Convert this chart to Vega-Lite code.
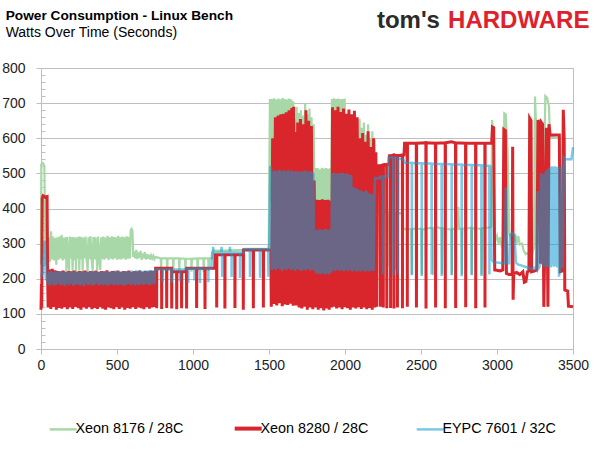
{
"$schema":"https://vega.github.io/schema/vega-lite/v6.json",
"width":532,"height":281,
"autosize":{"type":"none"},
"padding":{"left":41,"top":68,"right":25,"bottom":125},
"background":"white",
"title":{"text":"Power Consumption - Linux Bench","subtitle":"Watts Over Time (Seconds)","anchor":"start","frame":"bounds","dx":4,"offset":-31,"font":"Liberation Sans","fontSize":13.7,"fontWeight":"bold","color":"#000000","subtitleFont":"Liberation Sans","subtitleFontSize":14,"subtitleColor":"#000000","subtitlePadding":3},
"config":{"view":{"stroke":"#bfbfbf","strokeWidth":1},"font":"Liberation Sans"},
"resolve":{"axis":{"y":"independent"}},
"layer":[
{"data":{"values":[
{"t":0,"w":240},{"t":2,"w":525},{"t":8,"w":530},{"t":15,"w":528},{"t":22,"w":520},{"t":26,"w":380},{"t":30,"w":240},{"t":36,"w":255},{"t":40,"w":318},
{"t":45,"w":256},{"t":52,"w":318},{"t":59,"w":248},{"t":66,"w":335},{"t":73,"w":255},{"t":80,"w":320},{"t":87,"w":252},{"t":94,"w":316},{"t":101,"w":240},{"t":108,"w":318},{"t":115,"w":254},{"t":122,"w":320},{"t":129,"w":258},{"t":136,"w":325},{"t":143,"w":252},{"t":150,"w":317},{"t":157,"w":256},{"t":164,"w":318},{"t":167,"w":222},{"t":171,"w":319},{"t":178,"w":255},{"t":185,"w":222},{"t":189,"w":320},{"t":196,"w":258},{"t":203,"w":318},{"t":208,"w":221},{"t":213,"w":319},{"t":220,"w":253},{"t":227,"w":317},{"t":230,"w":222},{"t":235,"w":318},{"t":242,"w":257},{"t":249,"w":320},{"t":252,"w":223},{"t":257,"w":320},{"t":264,"w":255},{"t":271,"w":318},{"t":274,"w":222},{"t":279,"w":317},{"t":286,"w":258},{"t":293,"w":320},{"t":300,"w":254},{"t":307,"w":222},{"t":312,"w":318},{"t":319,"w":256},{"t":326,"w":321},{"t":333,"w":255},{"t":340,"w":222},{"t":345,"w":319},{"t":352,"w":255},{"t":359,"w":318},{"t":366,"w":257},{"t":370,"w":224},{"t":376,"w":320},{"t":383,"w":257},{"t":390,"w":225},{"t":396,"w":318},{"t":403,"w":256},{"t":410,"w":320},{"t":417,"w":254},{"t":424,"w":317},{"t":431,"w":258},{"t":438,"w":322},{"t":445,"w":253},{"t":452,"w":318},{"t":459,"w":257},{"t":466,"w":321},{"t":473,"w":255},{"t":480,"w":319},{"t":487,"w":258},{"t":494,"w":318},{"t":501,"w":254},{"t":508,"w":322},{"t":515,"w":256},{"t":522,"w":318},{"t":529,"w":255},{"t":536,"w":320},{"t":543,"w":258},{"t":550,"w":318},{"t":557,"w":254},{"t":564,"w":321},{"t":571,"w":257},{"t":578,"w":319},{"t":585,"w":258},{"t":590,"w":338},{"t":596,"w":342},{"t":602,"w":335},{"t":606,"w":262},
{"t":613,"w":278},{"t":620,"w":258},{"t":627,"w":282},{"t":634,"w":256},{"t":641,"w":275},{"t":648,"w":260},{"t":655,"w":279},{"t":662,"w":254},{"t":669,"w":272},{"t":676,"w":258},{"t":683,"w":276},{"t":690,"w":255},{"t":697,"w":270},{"t":704,"w":257},{"t":711,"w":268},{"t":718,"w":255},{"t":725,"w":266},{"t":732,"w":258},{"t":739,"w":265},{"t":746,"w":256},{"t":753,"w":262},
{"t":770,"w":260},{"t":788,"w":258},{"t":790,"w":222},{"t":793,"w":258},{"t":828,"w":258},{"t":830,"w":220},{"t":833,"w":258},{"t":868,"w":258},{"t":870,"w":222},{"t":873,"w":258},{"t":908,"w":258},{"t":910,"w":220},{"t":913,"w":258},{"t":948,"w":257},{"t":950,"w":222},{"t":953,"w":257},{"t":988,"w":257},{"t":990,"w":220},{"t":993,"w":257},{"t":1028,"w":258},{"t":1030,"w":222},{"t":1033,"w":258},{"t":1068,"w":258},{"t":1070,"w":220},{"t":1073,"w":258},{"t":1100,"w":258},{"t":1103,"w":222},{"t":1106,"w":258},{"t":1125,"w":258},{"t":1132,"w":280},{"t":1200,"w":280},{"t":1330,"w":282},{"t":1340,"w":285},{"t":1498,"w":286},
{"t":1502,"w":500},{"t":1506,"w":712},{"t":1513,"w":420},{"t":1520,"w":712},{"t":1527,"w":410},{"t":1534,"w":714},{"t":1541,"w":405},{"t":1548,"w":710},{"t":1555,"w":415},{"t":1562,"w":713},{"t":1569,"w":400},{"t":1576,"w":711},{"t":1583,"w":410},{"t":1590,"w":715},{"t":1597,"w":405},{"t":1604,"w":712},{"t":1611,"w":412},{"t":1618,"w":710},{"t":1625,"w":400},{"t":1632,"w":713},{"t":1639,"w":420},{"t":1646,"w":711},{"t":1653,"w":410},{"t":1660,"w":705},{"t":1664,"w":420},{"t":1668,"w":655},{"t":1675,"w":410},{"t":1682,"w":690},{"t":1689,"w":405},{"t":1696,"w":672},{"t":1703,"w":410},{"t":1710,"w":680},{"t":1717,"w":400},{"t":1724,"w":665},{"t":1731,"w":415},{"t":1738,"w":700},{"t":1745,"w":405},{"t":1752,"w":668},{"t":1759,"w":410},{"t":1766,"w":685},{"t":1773,"w":400},{"t":1780,"w":660},{"t":1787,"w":405},{"t":1794,"w":640},{"t":1800,"w":400},{"t":1806,"w":515},{"t":1813,"w":400},{"t":1820,"w":515},{"t":1827,"w":405},{"t":1834,"w":512},{"t":1841,"w":400},{"t":1848,"w":516},{"t":1855,"w":402},{"t":1862,"w":514},{"t":1869,"w":400},{"t":1876,"w":515},{"t":1883,"w":405},{"t":1890,"w":513},{"t":1897,"w":400},{"t":1904,"w":515},{"t":1909,"w":410},{"t":1914,"w":712},{"t":1921,"w":405},{"t":1928,"w":714},{"t":1935,"w":410},{"t":1942,"w":712},{"t":1949,"w":400},{"t":1956,"w":713},{"t":1963,"w":405},{"t":1970,"w":711},{"t":1977,"w":410},{"t":1984,"w":712},{"t":1991,"w":400},{"t":1998,"w":713},{"t":2005,"w":405},{"t":2012,"w":660},{"t":2019,"w":410},{"t":2026,"w":640},{"t":2033,"w":400},{"t":2040,"w":655},{"t":2047,"w":405},{"t":2054,"w":625},{"t":2061,"w":410},{"t":2068,"w":650},{"t":2075,"w":400},{"t":2082,"w":615},{"t":2089,"w":405},{"t":2096,"w":655},{"t":2103,"w":410},{"t":2110,"w":630},{"t":2117,"w":400},{"t":2124,"w":645},{"t":2131,"w":405},{"t":2138,"w":610},{"t":2145,"w":410},{"t":2152,"w":640},{"t":2159,"w":400},{"t":2166,"w":600},{"t":2173,"w":405},{"t":2180,"w":620},{"t":2187,"w":400},{"t":2194,"w":595},{"t":2201,"w":395},{"t":2210,"w":390},
{"t":2220,"w":390},{"t":2238,"w":385},{"t":2240,"w":230},{"t":2243,"w":388},{"t":2278,"w":390},{"t":2280,"w":235},{"t":2283,"w":388},{"t":2328,"w":386},{"t":2330,"w":225},{"t":2333,"w":388},{"t":2375,"w":385},{"t":2385,"w":340},{"t":2400,"w":342},{"t":2436,"w":340},{"t":2439,"w":212},{"t":2442,"w":342},{"t":2502,"w":342},{"t":2505,"w":212},{"t":2508,"w":340},{"t":2560,"w":345},{"t":2578,"w":342},{"t":2581,"w":210},{"t":2584,"w":344},{"t":2600,"w":348},{"t":2636,"w":342},{"t":2639,"w":212},{"t":2642,"w":344},{"t":2700,"w":340},{"t":2703,"w":212},{"t":2706,"w":342},{"t":2742,"w":342},{"t":2745,"w":405},{"t":2750,"w":342},{"t":2766,"w":342},{"t":2769,"w":212},{"t":2772,"w":342},{"t":2830,"w":345},{"t":2833,"w":212},{"t":2836,"w":344},{"t":2896,"w":342},{"t":2899,"w":212},{"t":2902,"w":344},{"t":2955,"w":346},{"t":2962,"w":350},{"t":2968,"w":652},{"t":2975,"w":600},{"t":2980,"w":320},{"t":2990,"w":310},{"t":3000,"w":322},{"t":3010,"w":300},{"t":3020,"w":318},{"t":3030,"w":295},{"t":3040,"w":305},{"t":3048,"w":671},{"t":3058,"w":668},{"t":3065,"w":600},{"t":3070,"w":560},{"t":3080,"w":330},{"t":3090,"w":318},{"t":3100,"w":332},{"t":3110,"w":305},{"t":3120,"w":328},{"t":3130,"w":300},{"t":3140,"w":322},{"t":3150,"w":298},{"t":3165,"w":300},{"t":3175,"w":280},{"t":3190,"w":270},{"t":3210,"w":275},{"t":3230,"w":270},{"t":3245,"w":290},{"t":3250,"w":719},{"t":3256,"w":650},{"t":3262,"w":300},{"t":3280,"w":320},{"t":3300,"w":300},{"t":3318,"w":720},{"t":3330,"w":715},{"t":3342,"w":690},{"t":3348,"w":605},{"t":3400,"w":600},{"t":3412,"w":600},{"t":3420,"w":280},{"t":3440,"w":250}
]},
"mark":{"type":"line","strokeWidth":2.2},
"encoding":{
"x":{"field":"t","type":"quantitative","scale":{"domain":[0,3500],"nice":false},"axis":{"values":[0,500,1000,1500,2000,2500,3000,3500],"format":"d","title":null,"grid":false,"domainColor":"#bfbfbf","tickColor":"#bfbfbf","tickSize":5,"labelPadding":4,"labelFlush":false,"labelFont":"Liberation Sans","labelFontSize":14,"labelColor":"#222222"}},
"y":{"field":"w","type":"quantitative","scale":{"domain":[0,800],"nice":false},"axis":{"orient":"left","values":[0,100,200,300,400,500,600,700,800],"format":"d","title":null,"grid":true,"gridColor":"#bfbfbf","domainColor":"#bfbfbf","ticks":true,"tickSize":5,"tickColor":"#bfbfbf","labelPadding":11,"labelFont":"Liberation Sans","labelFontSize":14,"labelColor":"#222222"}},
"color":{"datum":"Xeon 8176 / 28C","type":"nominal","scale":{"domain":["Xeon 8176 / 28C","Xeon 8280 / 28C","EYPC 7601 / 32C"],"range":["#a8d8a8","#d9262c","#129bd1"]},"legend":{"orient":"none","legendX":15,"legendY":353,"direction":"horizontal","title":null,"symbolType":"stroke","symbolSize":729,"symbolStrokeWidth":2.5,"labelFont":"Liberation Sans","labelFontSize":14.4,"labelColor":"#000000","labelOffset":5,"columnPadding":42,"labelLimit":300,"encode":{"symbols":{"update":{"strokeWidth":{"signal":"datum.value === 'Xeon 8280 / 28C' ? 4 : 2.5"},"opacity":{"signal":"datum.value === 'EYPC 7601 / 32C' ? 0.55 : 1"}}}}}}
}},
{"data":{"values":[
{"t":0,"w":112},{"t":3,"w":185},{"t":5,"w":118},{"t":8,"w":430},{"t":14,"w":436},{"t":28,"w":432},{"t":40,"w":434},{"t":44,"w":190},
{"t":47,"w":118},{"t":56,"w":226},{"t":65,"w":114},{"t":74,"w":228},{"t":83,"w":120},{"t":92,"w":224},{"t":101,"w":112},{"t":110,"w":222},{"t":119,"w":117},{"t":128,"w":221},{"t":137,"w":115},{"t":146,"w":223},{"t":155,"w":119},{"t":164,"w":220},{"t":173,"w":113},{"t":182,"w":222},{"t":191,"w":118},{"t":200,"w":221},{"t":209,"w":114},{"t":218,"w":223},{"t":227,"w":120},{"t":236,"w":220},{"t":245,"w":116},{"t":254,"w":222},{"t":263,"w":112},{"t":272,"w":221},{"t":281,"w":118},{"t":290,"w":223},{"t":299,"w":115},{"t":308,"w":220},{"t":317,"w":119},{"t":326,"w":222},{"t":335,"w":113},{"t":344,"w":221},{"t":353,"w":117},{"t":362,"w":223},{"t":371,"w":114},{"t":380,"w":220},{"t":389,"w":119},{"t":398,"w":222},{"t":407,"w":115},{"t":416,"w":221},{"t":425,"w":112},{"t":434,"w":224},{"t":443,"w":118},{"t":452,"w":220},{"t":461,"w":116},{"t":470,"w":222},{"t":479,"w":113},{"t":488,"w":221},{"t":497,"w":119},{"t":506,"w":223},{"t":515,"w":114},{"t":524,"w":220},{"t":533,"w":118},{"t":542,"w":222},{"t":551,"w":112},{"t":560,"w":221},{"t":569,"w":117},{"t":578,"w":223},{"t":587,"w":115},{"t":596,"w":220},{"t":605,"w":119},{"t":614,"w":222},{"t":623,"w":114},{"t":632,"w":221},{"t":641,"w":118},{"t":650,"w":223},{"t":659,"w":116},{"t":668,"w":220},{"t":677,"w":113},{"t":686,"w":222},{"t":695,"w":119},{"t":704,"w":221},{"t":713,"w":115},{"t":722,"w":223},{"t":731,"w":118},{"t":740,"w":222},{"t":748,"w":120},{"t":754,"w":230},
{"t":760,"w":230},{"t":761,"w":116},{"t":762,"w":230},{"t":793,"w":230},{"t":794,"w":114},{"t":795,"w":230},{"t":826,"w":230},{"t":827,"w":117},{"t":828,"w":230},{"t":859,"w":230},{"t":860,"w":115},{"t":861,"w":220},{"t":892,"w":220},{"t":893,"w":113},{"t":894,"w":220},{"t":924,"w":220},{"t":925,"w":116},{"t":926,"w":220},{"t":955,"w":220},{"t":957,"w":230},{"t":958,"w":115},{"t":959,"w":230},{"t":1023,"w":230},{"t":1024,"w":117},{"t":1025,"w":230},{"t":1078,"w":230},{"t":1079,"w":114},{"t":1080,"w":230},{"t":1143,"w":230},{"t":1145,"w":268},{"t":1155,"w":268},{"t":1156,"w":118},{"t":1157,"w":268},{"t":1209,"w":268},{"t":1210,"w":115},{"t":1211,"w":268},{"t":1275,"w":268},{"t":1276,"w":117},{"t":1277,"w":268},{"t":1330,"w":268},{"t":1331,"w":112},{"t":1332,"w":282},{"t":1396,"w":282},{"t":1397,"w":116},{"t":1398,"w":282},{"t":1462,"w":282},{"t":1463,"w":118},{"t":1464,"w":282},{"t":1512,"w":282},
{"t":1515,"w":120},{"t":1524,"w":600},{"t":1533,"w":128},{"t":1542,"w":660},{"t":1551,"w":124},{"t":1560,"w":665},{"t":1569,"w":130},{"t":1578,"w":668},{"t":1587,"w":122},{"t":1596,"w":670},{"t":1605,"w":127},{"t":1614,"w":674},{"t":1623,"w":125},{"t":1632,"w":680},{"t":1641,"w":129},{"t":1650,"w":686},{"t":1659,"w":123},{"t":1662,"w":690},{"t":1666,"w":126},{"t":1671,"w":618},{"t":1680,"w":124},{"t":1689,"w":645},{"t":1698,"w":118},{"t":1707,"w":655},{"t":1716,"w":115},{"t":1725,"w":640},{"t":1734,"w":120},{"t":1743,"w":680},{"t":1752,"w":112},{"t":1761,"w":650},{"t":1770,"w":118},{"t":1779,"w":635},{"t":1788,"w":113},{"t":1797,"w":480},{"t":1806,"w":118},{"t":1815,"w":425},{"t":1824,"w":112},{"t":1833,"w":424},{"t":1842,"w":116},{"t":1851,"w":426},{"t":1860,"w":110},{"t":1869,"w":424},{"t":1878,"w":115},{"t":1887,"w":425},{"t":1896,"w":112},{"t":1905,"w":423},{"t":1912,"w":118},{"t":1918,"w":688},{"t":1927,"w":120},{"t":1936,"w":680},{"t":1945,"w":115},{"t":1954,"w":690},{"t":1963,"w":118},{"t":1972,"w":675},{"t":1981,"w":113},{"t":1990,"w":685},{"t":1999,"w":119},{"t":2008,"w":670},{"t":2017,"w":116},{"t":2026,"w":682},{"t":2035,"w":112},{"t":2044,"w":668},{"t":2053,"w":118},{"t":2062,"w":678},{"t":2071,"w":115},{"t":2080,"w":660},{"t":2089,"w":119},{"t":2098,"w":600},{"t":2107,"w":114},{"t":2116,"w":615},{"t":2125,"w":118},{"t":2134,"w":590},{"t":2143,"w":113},{"t":2152,"w":620},{"t":2161,"w":117},{"t":2170,"w":575},{"t":2179,"w":112},{"t":2188,"w":600},{"t":2197,"w":118},{"t":2203,"w":560},{"t":2208,"w":120},{"t":2212,"w":522},
{"t":2231,"w":522},{"t":2232,"w":120},{"t":2233,"w":522},{"t":2251,"w":524},{"t":2252,"w":118},{"t":2253,"w":524},{"t":2274,"w":525},{"t":2275,"w":116},{"t":2276,"w":525},{"t":2290,"w":525},{"t":2293,"w":550},{"t":2299,"w":550},{"t":2300,"w":117},{"t":2301,"w":550},{"t":2321,"w":552},{"t":2322,"w":115},{"t":2323,"w":552},{"t":2344,"w":550},{"t":2345,"w":118},{"t":2346,"w":550},{"t":2377,"w":552},{"t":2378,"w":116},{"t":2379,"w":552},{"t":2388,"w":552},{"t":2392,"w":586},{"t":2409,"w":586},{"t":2410,"w":120},{"t":2411,"w":586},{"t":2469,"w":586},{"t":2470,"w":118},{"t":2471,"w":586},{"t":2532,"w":587},{"t":2533,"w":115},{"t":2534,"w":587},{"t":2595,"w":586},{"t":2596,"w":118},{"t":2597,"w":586},{"t":2659,"w":587},{"t":2660,"w":116},{"t":2661,"w":587},{"t":2700,"w":590},{"t":2727,"w":587},{"t":2728,"w":117},{"t":2729,"w":587},{"t":2793,"w":586},{"t":2794,"w":119},{"t":2795,"w":586},{"t":2859,"w":586},{"t":2860,"w":116},{"t":2861,"w":586},{"t":2920,"w":586},{"t":2921,"w":118},{"t":2922,"w":586},{"t":2965,"w":586},
{"t":2970,"w":632},{"t":2978,"w":630},{"t":2985,"w":225},{"t":3000,"w":224},{"t":3020,"w":222},{"t":3038,"w":225},{"t":3045,"w":625},{"t":3055,"w":622},{"t":3062,"w":215},{"t":3080,"w":212},{"t":3100,"w":212},{"t":3103,"w":576},{"t":3106,"w":140},{"t":3110,"w":215},{"t":3130,"w":218},{"t":3150,"w":212},{"t":3170,"w":220},{"t":3180,"w":190},{"t":3190,"w":192},{"t":3200,"w":220},{"t":3210,"w":222},{"t":3215,"w":657},{"t":3224,"w":650},{"t":3228,"w":220},{"t":3245,"w":222},{"t":3262,"w":225},{"t":3270,"w":652},{"t":3280,"w":640},{"t":3286,"w":243},{"t":3292,"w":645},{"t":3300,"w":640},{"t":3308,"w":120},{"t":3315,"w":300},{"t":3325,"w":630},{"t":3335,"w":120},{"t":3342,"w":640},{"t":3350,"w":609},{"t":3410,"w":609},{"t":3416,"w":220},{"t":3430,"w":222},{"t":3436,"w":681},{"t":3442,"w":600},{"t":3446,"w":168},{"t":3465,"w":165},{"t":3470,"w":122},{"t":3500,"w":120}
]},
"mark":{"type":"line","strokeWidth":3},
"encoding":{
"x":{"field":"t","type":"quantitative","scale":{"domain":[0,3500],"nice":false}},
"y":{"field":"w","type":"quantitative","scale":{"domain":[0,800],"nice":false},"axis":{"orient":"left","values":[20,40,60,80,120,140,160,180,220,240,260,280,320,340,360,380,420,440,460,480,520,540,560,580,620,640,660,680,720,740,760,780],"title":null,"labels":false,"grid":false,"domain":false,"ticks":true,"tickSize":-4,"tickColor":"#bfbfbf"}},
"color":{"datum":"Xeon 8280 / 28C","type":"nominal"}
}},
{"data":{"values":[
{"t":0,"w":205},{"t":8,"w":215},{"t":12,"w":240},{"t":18,"w":260},{"t":22,"w":308},{"t":26,"w":300},{"t":30,"w":205},{"t":36,"w":195},{"t":42,"w":210},
{"t":45,"w":184},{"t":52,"w":220},{"t":59,"w":181},{"t":66,"w":222},{"t":73,"w":185},{"t":80,"w":219},{"t":87,"w":180},{"t":94,"w":221},{"t":101,"w":183},{"t":108,"w":218},{"t":115,"w":186},{"t":122,"w":222},{"t":129,"w":181},{"t":136,"w":220},{"t":143,"w":184},{"t":150,"w":219},{"t":157,"w":179},{"t":164,"w":221},{"t":171,"w":185},{"t":178,"w":220},{"t":185,"w":182},{"t":192,"w":218},{"t":199,"w":186},{"t":206,"w":221},{"t":213,"w":180},{"t":220,"w":220},{"t":227,"w":183},{"t":234,"w":222},{"t":241,"w":185},{"t":248,"w":219},{"t":255,"w":181},{"t":262,"w":221},{"t":269,"w":184},{"t":276,"w":220},{"t":283,"w":179},{"t":290,"w":218},{"t":297,"w":186},{"t":304,"w":221},{"t":311,"w":182},{"t":318,"w":220},{"t":325,"w":185},{"t":332,"w":222},{"t":339,"w":180},{"t":346,"w":219},{"t":353,"w":183},{"t":360,"w":221},{"t":367,"w":186},{"t":374,"w":220},{"t":381,"w":181},{"t":388,"w":218},{"t":395,"w":184},{"t":402,"w":221},{"t":409,"w":182},{"t":416,"w":220},{"t":423,"w":185},{"t":430,"w":222},{"t":437,"w":180},{"t":444,"w":219},{"t":451,"w":183},{"t":458,"w":221},{"t":465,"w":186},{"t":472,"w":220},{"t":479,"w":182},{"t":486,"w":223},{"t":493,"w":184},{"t":500,"w":222},{"t":507,"w":181},{"t":514,"w":221},{"t":521,"w":185},{"t":528,"w":220},{"t":535,"w":182},{"t":542,"w":222},{"t":549,"w":180},{"t":556,"w":219},{"t":563,"w":183},{"t":570,"w":221},{"t":577,"w":186},{"t":584,"w":220},{"t":591,"w":182},{"t":598,"w":223},{"t":605,"w":184},{"t":612,"w":222},{"t":619,"w":181},{"t":626,"w":224},{"t":633,"w":185},{"t":640,"w":223},{"t":647,"w":182},{"t":654,"w":224},{"t":661,"w":186},{"t":668,"w":222},{"t":675,"w":183},{"t":682,"w":224},{"t":689,"w":185},{"t":696,"w":223},{"t":703,"w":184},{"t":710,"w":224},{"t":717,"w":182},{"t":724,"w":223},{"t":731,"w":185},{"t":738,"w":224},{"t":745,"w":184},
{"t":752,"w":226},{"t":799,"w":226},{"t":800,"w":190},{"t":801,"w":226},{"t":859,"w":226},{"t":860,"w":188},{"t":861,"w":226},{"t":913,"w":226},{"t":914,"w":192},{"t":915,"w":226},{"t":950,"w":226},{"t":955,"w":229},{"t":968,"w":229},{"t":969,"w":188},{"t":970,"w":229},{"t":1009,"w":229},{"t":1010,"w":195},{"t":1011,"w":229},{"t":1045,"w":229},{"t":1046,"w":188},{"t":1047,"w":229},{"t":1100,"w":229},{"t":1101,"w":190},{"t":1102,"w":229},{"t":1120,"w":229},{"t":1126,"w":275},{"t":1132,"w":275},{"t":1133,"w":291},{"t":1135,"w":275},{"t":1186,"w":275},{"t":1188,"w":291},{"t":1190,"w":275},{"t":1192,"w":205},{"t":1194,"w":275},{"t":1241,"w":275},{"t":1243,"w":291},{"t":1245,"w":275},{"t":1253,"w":275},{"t":1254,"w":205},{"t":1255,"w":275},{"t":1308,"w":275},{"t":1309,"w":202},{"t":1310,"w":275},{"t":1330,"w":275},{"t":1335,"w":284},{"t":1374,"w":284},{"t":1375,"w":205},{"t":1376,"w":284},{"t":1440,"w":284},{"t":1441,"w":203},{"t":1442,"w":284},{"t":1494,"w":284},{"t":1496,"w":206},{"t":1498,"w":284},{"t":1502,"w":300},{"t":1508,"w":520},{"t":1514,"w":515},
{"t":1518,"w":225},{"t":1525,"w":505},{"t":1532,"w":228},{"t":1539,"w":508},{"t":1546,"w":224},{"t":1553,"w":506},{"t":1560,"w":230},{"t":1567,"w":510},{"t":1574,"w":226},{"t":1581,"w":507},{"t":1588,"w":222},{"t":1595,"w":509},{"t":1602,"w":228},{"t":1609,"w":505},{"t":1616,"w":225},{"t":1623,"w":510},{"t":1630,"w":229},{"t":1637,"w":506},{"t":1644,"w":224},{"t":1651,"w":508},{"t":1658,"w":227},{"t":1665,"w":505},{"t":1672,"w":222},{"t":1679,"w":507},{"t":1686,"w":228},{"t":1693,"w":504},{"t":1700,"w":225},{"t":1707,"w":506},{"t":1714,"w":223},{"t":1721,"w":505},{"t":1728,"w":226},{"t":1735,"w":508},{"t":1742,"w":224},{"t":1749,"w":506},{"t":1756,"w":228},{"t":1763,"w":505},{"t":1770,"w":223},{"t":1777,"w":507},{"t":1784,"w":226},{"t":1791,"w":502},{"t":1798,"w":222},{"t":1804,"w":340},{"t":1811,"w":215},{"t":1818,"w":338},{"t":1825,"w":214},{"t":1832,"w":341},{"t":1839,"w":212},{"t":1846,"w":339},{"t":1853,"w":216},{"t":1860,"w":340},{"t":1867,"w":213},{"t":1874,"w":342},{"t":1881,"w":215},{"t":1888,"w":339},{"t":1895,"w":212},{"t":1902,"w":341},{"t":1909,"w":218},{"t":1915,"w":500},{"t":1922,"w":224},{"t":1929,"w":502},{"t":1936,"w":222},{"t":1943,"w":499},{"t":1950,"w":226},{"t":1957,"w":501},{"t":1964,"w":223},{"t":1971,"w":500},{"t":1978,"w":225},{"t":1985,"w":502},{"t":1992,"w":221},{"t":1999,"w":498},{"t":2006,"w":224},{"t":2013,"w":500},{"t":2020,"w":222},{"t":2027,"w":497},{"t":2034,"w":225},{"t":2041,"w":495},{"t":2048,"w":221},{"t":2055,"w":462},{"t":2062,"w":224},{"t":2069,"w":458},{"t":2076,"w":220},{"t":2083,"w":455},{"t":2090,"w":223},{"t":2097,"w":452},{"t":2104,"w":221},{"t":2111,"w":450},{"t":2118,"w":224},{"t":2125,"w":447},{"t":2132,"w":220},{"t":2139,"w":452},{"t":2146,"w":223},{"t":2153,"w":445},{"t":2160,"w":221},{"t":2167,"w":442},{"t":2174,"w":224},{"t":2181,"w":440},{"t":2188,"w":222},{"t":2194,"w":438},{"t":2198,"w":487},
{"t":2230,"w":485},{"t":2232,"w":491},{"t":2249,"w":491},{"t":2250,"w":212},{"t":2251,"w":491},{"t":2283,"w":491},{"t":2287,"w":545},{"t":2317,"w":545},{"t":2318,"w":210},{"t":2319,"w":545},{"t":2349,"w":543},{"t":2350,"w":213},{"t":2351,"w":543},{"t":2384,"w":540},{"t":2390,"w":530},{"t":2439,"w":530},{"t":2440,"w":210},{"t":2441,"w":529},{"t":2504,"w":529},{"t":2505,"w":208},{"t":2506,"w":528},{"t":2569,"w":528},{"t":2570,"w":212},{"t":2571,"w":527},{"t":2635,"w":527},{"t":2636,"w":208},{"t":2637,"w":526},{"t":2701,"w":526},{"t":2702,"w":210},{"t":2703,"w":525},{"t":2767,"w":525},{"t":2768,"w":207},{"t":2769,"w":524},{"t":2833,"w":524},{"t":2834,"w":210},{"t":2835,"w":523},{"t":2897,"w":523},{"t":2898,"w":208},{"t":2899,"w":522},{"t":2949,"w":522},{"t":2950,"w":212},{"t":2951,"w":520},{"t":2958,"w":519},{"t":2964,"w":255},{"t":2975,"w":248},{"t":3000,"w":246},{"t":3040,"w":244},{"t":3050,"w":244},{"t":3058,"w":460},{"t":3062,"w":244},{"t":3080,"w":244},{"t":3085,"w":325},{"t":3100,"w":330},{"t":3115,"w":322},{"t":3125,"w":246},{"t":3140,"w":240},{"t":3160,"w":238},{"t":3180,"w":235},{"t":3200,"w":232},{"t":3215,"w":230},{"t":3230,"w":228},{"t":3250,"w":232},{"t":3262,"w":225},{"t":3268,"w":450},{"t":3273,"w":228},{"t":3280,"w":235},{"t":3290,"w":500},{"t":3296,"w":240},{"t":3305,"w":498},{"t":3312,"w":232},{"t":3320,"w":505},{"t":3326,"w":236},{"t":3331,"w":510},{"t":3336,"w":232},{"t":3341,"w":515},{"t":3346,"w":236},{"t":3351,"w":518},{"t":3356,"w":232},{"t":3361,"w":520},{"t":3366,"w":238},{"t":3371,"w":519},{"t":3376,"w":234},{"t":3381,"w":520},{"t":3386,"w":236},{"t":3391,"w":518},{"t":3396,"w":232},{"t":3401,"w":519},{"t":3408,"w":206},{"t":3416,"w":230},{"t":3425,"w":520},{"t":3432,"w":230},{"t":3440,"w":545},{"t":3448,"w":540},{"t":3470,"w":540},{"t":3490,"w":540},{"t":3500,"w":575}
]},
"mark":{"type":"line","strokeWidth":2.5,"opacity":0.55},
"encoding":{
"x":{"field":"t","type":"quantitative","scale":{"domain":[0,3500],"nice":false}},
"y":{"field":"w","type":"quantitative","scale":{"domain":[0,800],"nice":false},"axis":null},
"color":{"datum":"EYPC 7601 / 32C","type":"nominal"}
}},
{"data":{"values":[{"logo":"tom's"}]},
"mark":{"type":"text","font":"Liberation Sans","fontWeight":"bold","fontSize":24,"color":"#2b2b2b","align":"left","baseline":"alphabetic"},
"encoding":{"x":{"datum":2210,"type":"quantitative","scale":{"domain":[0,3500],"nice":false}},"y":{"datum":914,"type":"quantitative","scale":{"domain":[0,800],"nice":false},"axis":null},"text":{"field":"logo"}}},
{"data":{"values":[{"logo":"HARDWARE"}]},
"mark":{"type":"text","font":"Liberation Sans","fontWeight":"bold","fontSize":24,"color":"#e0202a","align":"left","baseline":"alphabetic"},
"encoding":{"x":{"datum":2678,"type":"quantitative","scale":{"domain":[0,3500],"nice":false}},"y":{"datum":914,"type":"quantitative","scale":{"domain":[0,800],"nice":false},"axis":null},"text":{"field":"logo"}}}
]
}
